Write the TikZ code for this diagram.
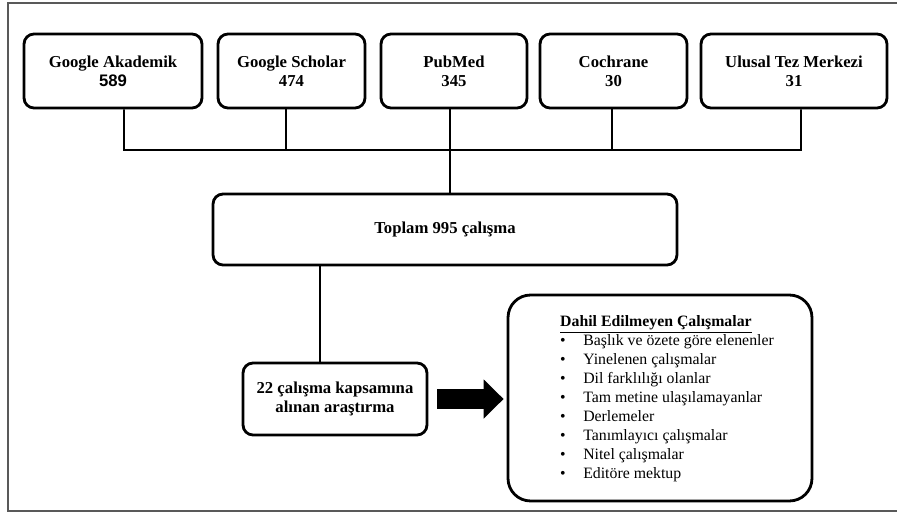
\documentclass[tikz,border=0pt]{standalone}
\usepackage{fontspec}
\setmainfont{Liberation Serif}
\newfontfamily\numfont{Liberation Sans}
\usetikzlibrary{arrows.meta,positioning,calc}

\begin{document}
\begin{tikzpicture}[
	x=0.02cm, y=-0.02cm,
	every node/.style={font=\fontsize{9.5}{10.8}\selectfont\bfseries, align=center},
	srcbox/.style={draw, line width=1.6pt, rounded corners=0.2cm, minimum height=1.48cm, inner sep=2pt},
	sumbox/.style={draw, line width=1.6pt, rounded corners=0.2cm, inner sep=2pt},
	listbox/.style={draw, line width=1.6pt, rounded corners=0.45cm, minimum width=6.08cm, minimum height=4.12cm},
	link/.style={line width=1.1pt},
	bigarrow/.style={line width=0.4cm, -{Triangle[length=0.4cm, width=0.76cm]}},
	frame/.style={draw=black!65, line width=0.6pt}
	]

	\useasboundingbox (0,0) rectangle (897,514);
	\draw[frame] (897,3) -- (8,3) -- (8,511) -- (897,511);

	% databases
	\node[srcbox, minimum width=3.56cm] (gak) at (113,71) {Google Akademik\\{\numfont 589}};
	\node[srcbox, minimum width=2.94cm] (gsc) at (291.5,71) {Google Scholar\\474};
	\node[srcbox, minimum width=2.92cm] (pub) at (454,71) {PubMed\\345};
	\node[srcbox, minimum width=2.94cm] (coc) at (613.5,71) {Cochrane\\30};
	\node[srcbox, minimum width=3.72cm] (ulu) at (794,71) {Ulusal Tez Merkezi\\31};

	\node[sumbox, minimum width=9.28cm, minimum height=1.42cm] (total) at (445,229.5) {Toplam 995 çalışma};
	\node[sumbox, minimum width=3.68cm, minimum height=1.44cm] (inc) at (335,399) {22 çalışma kapsamına\\alınan araştırma};

	\node[listbox] (excl) at (660,398) {};
	\node[font=\fontsize{9}{10.8}\selectfont, align=left] (excllist) at (667,399) {%
		\textbf{\underline{Dahil Edilmeyen Çalışmalar}}\\
		\textbullet\hspace{10pt}Başlık ve özete göre elenenler\\
		\textbullet\hspace{10pt}Yinelenen çalışmalar\\
		\textbullet\hspace{10pt}Dil farklılığı olanlar\\
		\textbullet\hspace{10pt}Tam metine ulaşılamayanlar\\
		\textbullet\hspace{10pt}Derlemeler\\
		\textbullet\hspace{10pt}Tanımlayıcı çalışmalar\\
		\textbullet\hspace{10pt}Nitel çalışmalar\\
		\textbullet\hspace{10pt}Editöre mektup};

	% connectors
	\coordinate (barl) at (124,150);
	\coordinate (barr) at (801,150);
	\draw[link] ([xshift=0.22cm]gak.south) -- (barl) -- (barr) -- ([xshift=0.14cm]ulu.south);
	\foreach \n/\dx in {gsc/-0.11, pub/-0.08, coc/-0.03}
		\draw[link] ([xshift=\dx cm]\n.south) -- ([xshift=\dx cm]\n.south |- barl);
	\draw[link] ([xshift=0.1cm]total.north) -- ([xshift=0.1cm]total.north |- barl);
	\draw[link] ([xshift=-0.3cm]inc.north) -- ([xshift=-0.3cm]inc.north |- total.south);
	\draw[bigarrow, shorten <=0.18cm, shorten >=0.06cm] (inc.east) -- (inc.east -| excl.west);

\end{tikzpicture}
\end{document}
